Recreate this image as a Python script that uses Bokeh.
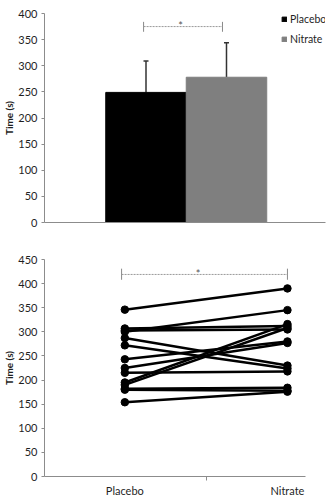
from bokeh.plotting import figure
from bokeh.layouts import column, row
from bokeh.models import (FixedTicker, Range1d, Whisker, TeeHead, ColumnDataSource,
                          Legend, LegendItem)
from bokeh.embed import file_html
from bokeh.resources import INLINE

# ---- data ----
conditions = ["Placebo", "Nitrate"]
mean_time = [249, 278]
sd_time = [60, 66]
placebo_times = [346, 307, 303, 300, 287, 272, 243, 225, 215, 195, 190, 182, 180, 154]
nitrate_times = [390, 312, 305, 345, 230, 224, 280, 277, 218, 316, 308, 184, 178, 176]
top_ticks = [0, 50, 100, 150, 200, 250, 300, 350, 400]
bottom_ticks = [0, 50, 100, 150, 200, 250, 300, 350, 400, 450]

FONT = "Lato"
AXIS_COL = "#8c8c8c"
TEXT_COL = "#1f1f1f"

def style_y(ax):
    ax.axis_line_color = AXIS_COL
    ax.major_tick_line_color = AXIS_COL
    ax.major_tick_out = 3
    ax.major_tick_in = 0
    ax.minor_tick_line_color = None
    ax.major_label_text_font = FONT
    ax.major_label_text_font_size = "11px"
    ax.major_label_text_color = TEXT_COL
    ax.major_label_standoff = 4
    ax.axis_label = "Time (s)"
    ax.axis_label_text_font = FONT
    ax.axis_label_text_font_size = "10px"
    ax.axis_label_text_font_style = "bold"
    ax.axis_label_text_color = TEXT_COL
    ax.axis_label_standoff = 0

# ---- top: bar chart ----
p1 = figure(width=330, height=240, output_backend="svg", toolbar_location=None,
            x_range=Range1d(-1.261, 2.23), y_range=Range1d(0, 400),
            min_border_left=44, min_border_right=5, min_border_top=13, min_border_bottom=18)
p1.outline_line_color = None
p1.grid.visible = False
p1.yaxis.ticker = FixedTicker(ticks=top_ticks)
style_y(p1.yaxis[0])
p1.xaxis.ticker = FixedTicker(ticks=[])
p1.xaxis.axis_line_color = AXIS_COL
p1.xaxis.major_tick_line_color = None
p1.xaxis.minor_tick_line_color = None
p1.xaxis.major_label_text_font_size = "0px"

xs_bar = list(range(len(conditions)))
upper = [m + s for m, s in zip(mean_time, sd_time)]
src = ColumnDataSource(dict(x=xs_bar, top=mean_time, upper=upper))
r_p = p1.vbar(x=[xs_bar[0]], top=[mean_time[0]], width=1.0, color="#000000", line_color="#000000")
r_n = p1.vbar(x=[xs_bar[1]], top=[mean_time[1]], width=1.0, color="#7f7f7f", line_color="#7f7f7f")
wh = Whisker(source=src, base="x", lower="top", upper="upper", dimension="height",
             line_color="#333333", line_width=1.5,
             upper_head=TeeHead(size=5, line_color="#333333", line_width=1.5), lower_head=None)
p1.add_layout(wh)

# significance bracket (top)
p1.line(x=[-0.03, -0.03], y=[365, 384], line_color="#888888", line_width=1)
p1.line(x=[0.95, 0.95], y=[365, 384], line_color="#888888", line_width=1)
p1.line(x=[-0.03, 0.95], y=[375, 375], line_color="#999999", line_width=1, line_dash="2 1")
p1.text(x=[0.43], y=[377], text=["*"], text_font_size="11px", text_color="#555555",
        text_align="center", text_baseline="middle", text_font={"value": FONT})

legend = Legend(items=[LegendItem(label="Placebo", renderers=[r_p]),
                       LegendItem(label="Nitrate", renderers=[r_n])],
                location=(237, 177), orientation="vertical")
legend.glyph_width = 6
legend.glyph_height = 6
legend.label_standoff = 3
legend.spacing = 7
legend.padding = 0
legend.margin = 0
legend.border_line_color = None
legend.background_fill_alpha = 0
legend.label_text_font = FONT
legend.label_text_font_size = "10.5px"
legend.label_text_color = TEXT_COL
legend.label_height = 13
p1.add_layout(legend)

# ---- bottom: paired lines ----
p2 = figure(width=330, height=261, output_backend="svg", toolbar_location=None,
            x_range=Range1d(-0.494, 1.111), y_range=Range1d(0, 450),
            min_border_left=44, min_border_right=25, min_border_top=19, min_border_bottom=25)
p2.outline_line_color = None
p2.grid.visible = False
p2.yaxis.ticker = FixedTicker(ticks=bottom_ticks)
style_y(p2.yaxis[0])
xa = p2.xaxis[0]
xa.ticker = FixedTicker(ticks=[0, 1], minor_ticks=[0.5])
xa.major_label_overrides = {0: conditions[0], 1: conditions[1]}
xa.axis_line_color = AXIS_COL
xa.major_tick_line_color = None
xa.major_tick_out = 0
xa.minor_tick_line_color = AXIS_COL
xa.minor_tick_out = 4
xa.minor_tick_in = 0
xa.major_label_standoff = 3
xa.major_label_text_font = FONT
xa.major_label_text_font_size = "11px"
xa.major_label_text_color = TEXT_COL

xs_lines = [[0, 1] for _ in placebo_times]
ys_lines = [[a, b] for a, b in zip(placebo_times, nitrate_times)]
p2.multi_line(xs=xs_lines, ys=ys_lines, line_color="black", line_width=2.5)
p2.scatter(x=[0] * len(placebo_times), y=placebo_times, size=7.5, color="black")
p2.scatter(x=[1] * len(nitrate_times), y=nitrate_times, size=7.5, color="black")

p2.line(x=[-0.02, -0.02], y=[408, 431], line_color="#888888", line_width=1)
p2.line(x=[1.0, 1.0], y=[408, 431], line_color="#888888", line_width=1)
p2.line(x=[-0.02, 1.0], y=[419, 419], line_color="#999999", line_width=1, line_dash="2 1")
p2.text(x=[0.45], y=[421], text=["*"], text_font_size="11px", text_color="#555555",
        text_align="center", text_baseline="middle", text_font={"value": FONT})

layout = column(row(p1), row(p2), spacing=0)
open("out.html", "w").write(file_html(layout, INLINE))
